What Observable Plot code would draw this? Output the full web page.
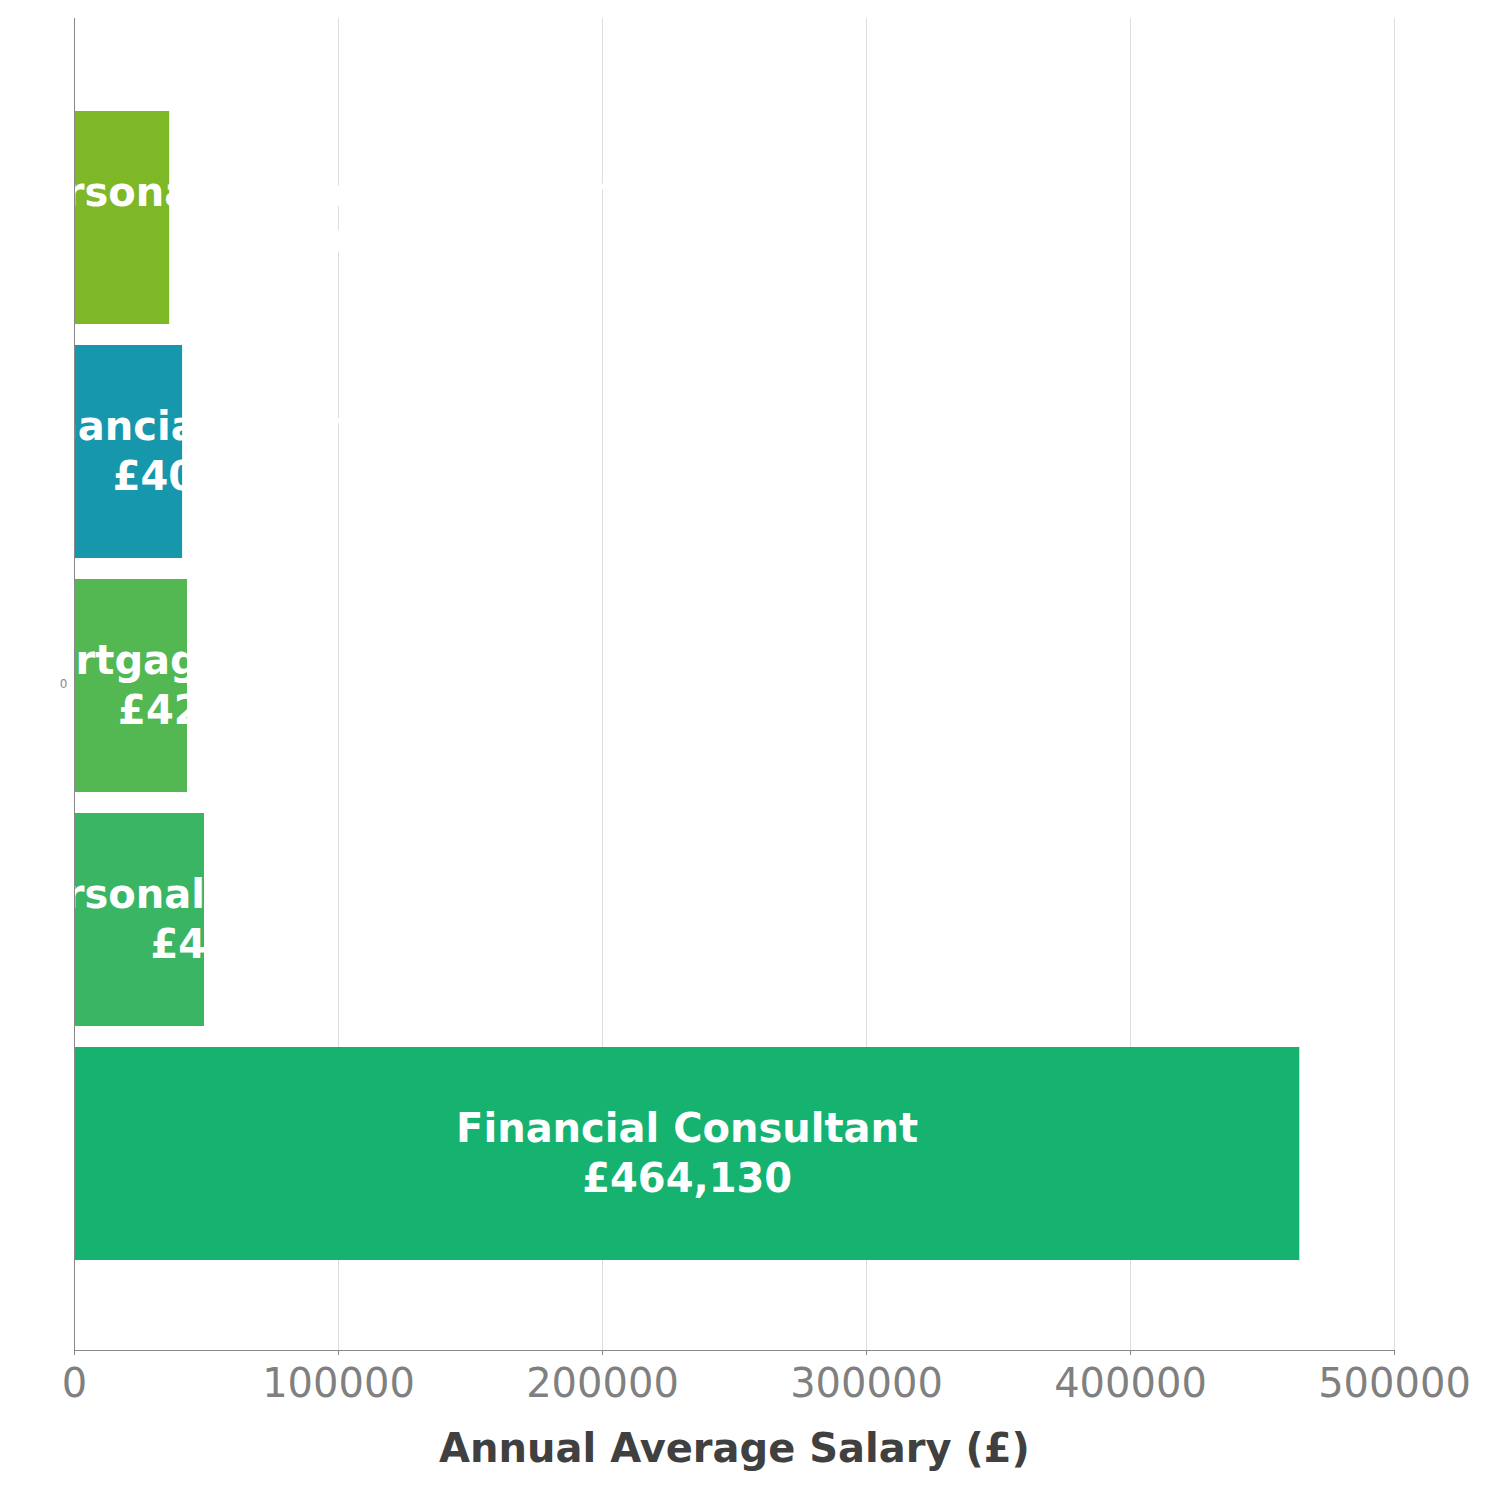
<!DOCTYPE html>
<html>
<head>
<meta charset="utf-8">
<script src="https://cdn.jsdelivr.net/npm/d3@7"></script>
<script src="https://cdn.jsdelivr.net/npm/@observablehq/plot@0.6"></script>
<style>
  html, body { margin: 0; padding: 0; background: #ffffff; }
</style>
</head>
<body>
<div id="chart"></div>
<script>
// ---- data ----
const names = ["Personal Financial Advisor", "Financial Planner", "Mortgage Advisor", "Personal Investment", "Financial Consultant"];
const salaries = [36050, 40950, 42800, 49250, 464130];
const xTicks = [0, 100000, 200000, 300000, 400000, 500000];
const xLabel = "Annual Average Salary (£)";
const yTickLabels = ["0"];
const barColors = ["#7fb827", "#1697ab", "#54b852", "#3ab564", "#15b270"];

// ---- layout ----
const W = 1500, H = 1500, mL = 74, mR = 106, mT = 18, mB = 150;
const fmt = d3.format(",");

const rows = names.map((n, i) => ({
  name: n,
  value: salaries[i],
  label: n + "\n£" + fmt(salaries[i])
}));

// label centred on the bar, but kept from running off the left edge of the picture
const xs = Plot.scale({x: {domain: [0, 500000], range: [mL, W - mR]}});
const ctx = document.createElement("canvas").getContext("2d");
ctx.font = "bold 40px 'DejaVu Sans'";
rows.forEach(r => {
  const w = Math.max(...r.label.split("\n").map(s => ctx.measureText(s).width));
  const c = Math.max(xs.apply(r.value / 2), 7.8 + w / 2);
  r.tx = xs.invert(c);
});

const chart = Plot.plot({
  width: W,
  height: H,
  marginLeft: mL,
  marginRight: mR,
  marginTop: mT,
  marginBottom: mB,
  style: {fontFamily: "'DejaVu Sans', sans-serif", background: "#ffffff"},
  x: {domain: [0, 500000]},
  y: {domain: names, paddingInner: 0.0917, paddingOuter: 0.386, align: 0.508, axis: null},
  color: {domain: names, range: barColors},
  marks: [
    Plot.gridX(xTicks.slice(1), {stroke: "#dddddd", strokeOpacity: 1}),
    Plot.barX(rows, {x: "value", y: "name", fill: "name"}),
    Plot.text(rows, {
      x: "tx", y: "name", text: "label", dy: -3,
      fill: "white", fontSize: 40, fontWeight: "bold",
      lineHeight: 1.25, textAnchor: "middle", lineAnchor: "middle"
    }),
    Plot.ruleX([0], {stroke: "#888888"}),
    Plot.frame({anchor: "bottom", stroke: "#888888"}),
    Plot.axisX(xTicks, {
      tickSize: 5, tickPadding: 13, fontSize: 40,
      tickFormat: d => String(d), stroke: "#888888", fill: "#808080", label: null
    }),
    Plot.text(yTickLabels, {frameAnchor: "left", dx: -7, textAnchor: "end", fontSize: 12, fill: "#888888"}),
    Plot.text([xLabel], {frameAnchor: "bottom", dy: 111, fontSize: 40, fontWeight: "bold", fill: "#404040"})
  ]
});

document.getElementById("chart").appendChild(chart);
</script>
</body>
</html>
